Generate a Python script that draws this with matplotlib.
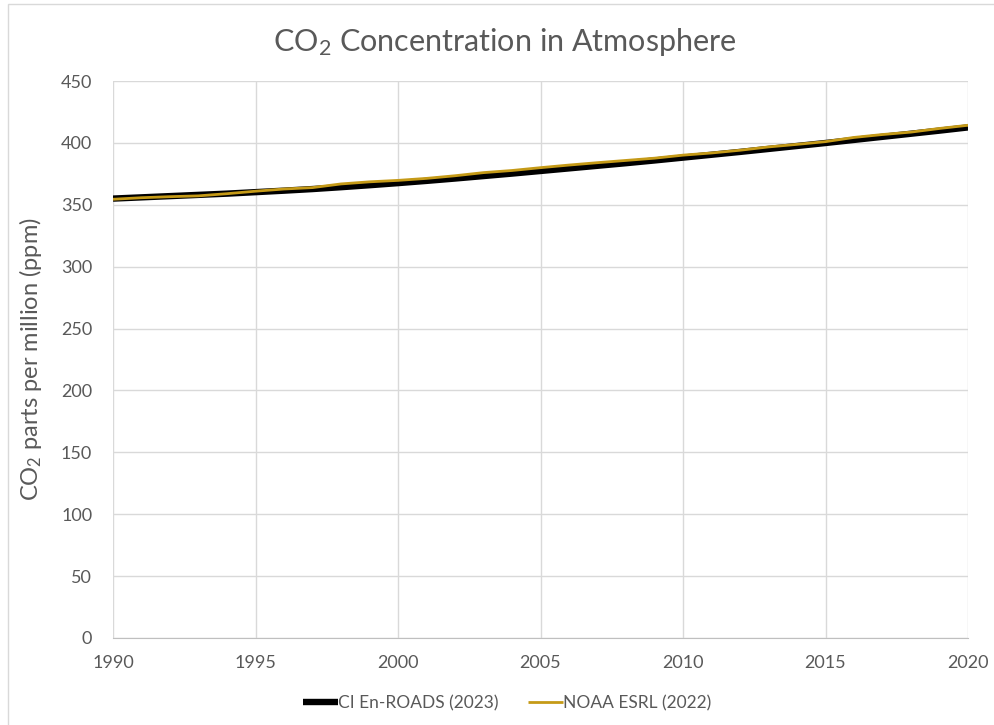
import matplotlib
matplotlib.use("Agg")
import matplotlib.pyplot as plt
from matplotlib.patches import Rectangle

plt.rcParams['font.family'] = ['Lato', 'DejaVu Sans']
plt.rcParams['mathtext.fontset'] = 'custom'
plt.rcParams['mathtext.rm'] = 'Lato'
plt.rcParams['mathtext.it'] = 'Lato'

years = list(range(1990, 2021))
enroads = [355.0, 356.0, 357.0, 358.0, 359.0, 360.2, 361.4, 362.7, 364.2, 365.8,
           367.5, 369.3, 371.2, 373.2, 375.2, 377.3, 379.4, 381.5, 383.6, 385.8,
           388.1, 390.4, 392.7, 395.1, 397.5, 399.9, 402.4, 404.9, 407.4, 409.9, 412.5]
noaa = [354.45, 355.70, 356.54, 357.21, 358.96, 360.97, 362.74, 363.88, 366.84, 368.54,
        369.71, 371.32, 373.45, 375.98, 377.70, 379.98, 382.09, 384.02, 385.83, 387.64,
        390.10, 391.85, 394.06, 396.74, 398.81, 401.01, 404.41, 406.76, 408.72, 411.66, 414.24]
x_ticks = [1990, 1995, 2000, 2005, 2010, 2015, 2020]
y_ticks = [0, 50, 100, 150, 200, 250, 300, 350, 400, 450]

text_color = '#595959'
grid_color = '#D9D9D9'

fig = plt.figure(figsize=(9.94, 7.25), dpi=100)
fig.patches.append(Rectangle((8 / 994, -0.01), 1.0, 1 - 4 / 725 + 0.01,
                             transform=fig.transFigure, fill=False,
                             edgecolor='#D9D9D9', linewidth=1.0))

ax = fig.add_axes([113 / 994, 1 - 638 / 725, (968 - 113) / 994, (638 - 81) / 725])
ax.plot(years, enroads, color='black', linewidth=4.6, label='CI En-ROADS (2023)',
        solid_capstyle='butt', zorder=3)
ax.plot(years, noaa, color='#C59A17', linewidth=2.0, label='NOAA ESRL (2022)',
        solid_capstyle='butt', zorder=4)

ax.set_xlim(1990, 2020)
ax.set_ylim(0, 450)
ax.set_xticks(x_ticks)
ax.set_yticks(y_ticks)
ax.grid(True, color=grid_color, linewidth=1.0)
ax.set_axisbelow(True)
for side in ['top', 'right', 'left']:
    ax.spines[side].set_visible(False)
ax.spines['bottom'].set_color('#BFBFBF')
ax.tick_params(length=0, labelsize=13, colors=text_color)
ax.tick_params(axis='x', pad=12)
ax.tick_params(axis='y', pad=15)

ax.set_ylabel('CO$_2$ parts per million (ppm)', fontsize=17, color=text_color, labelpad=12)
fig.text(505 / 994, 1 - 42 / 725, 'CO$_2$ Concentration in Atmosphere',
         ha='center', va='center', fontsize=22, color=text_color)

leg = fig.legend(loc='center', bbox_to_anchor=(507 / 994, 1 - 703 / 725), ncol=2,
                 frameon=False, fontsize=12.5, handlelength=2.0, handletextpad=0.0,
                 columnspacing=1.7)
for t in leg.get_texts():
    t.set_color(text_color)

fig.savefig('out.png', dpi=100)
